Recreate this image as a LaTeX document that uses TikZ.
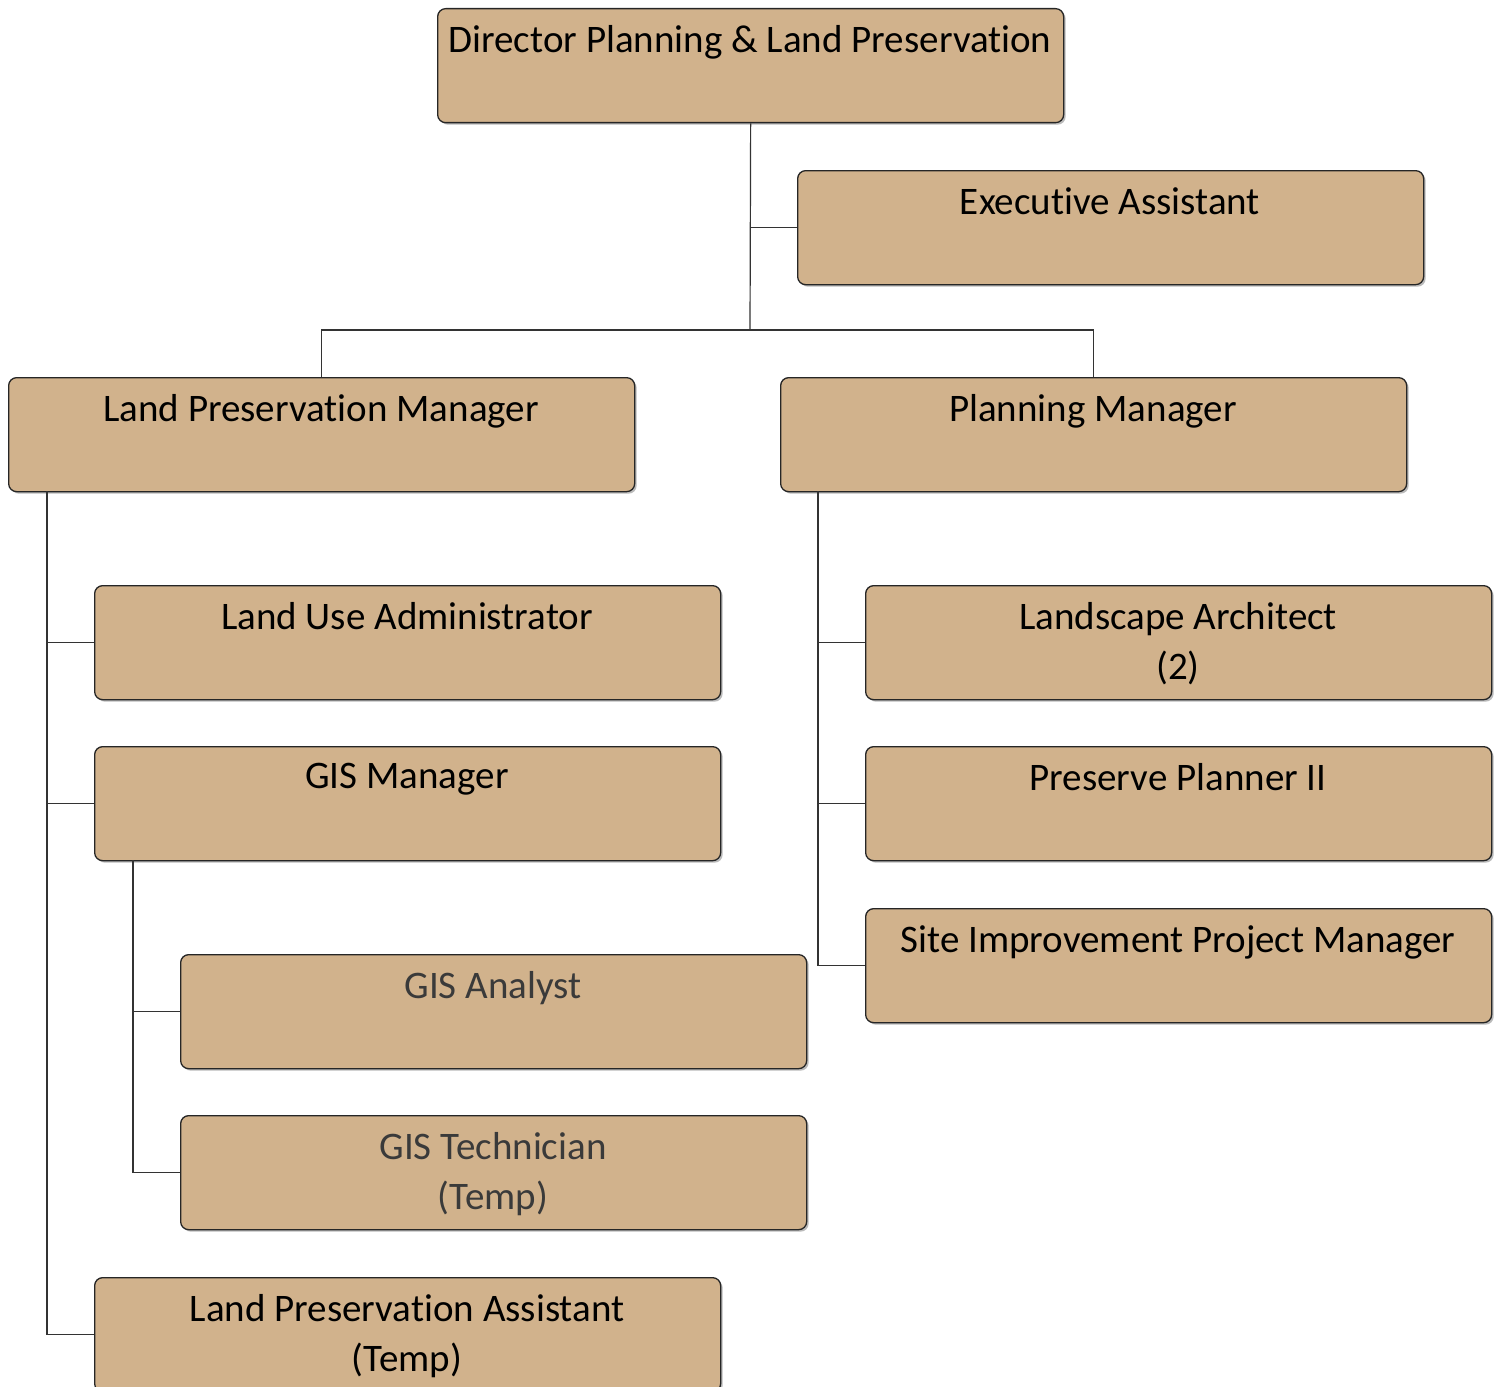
\documentclass[tikz,border=0pt]{standalone}
\usepackage{fontspec}
\setmainfont{Carlito}[RawFeature={-liga;-clig;-dlig;-calt;-rlig}]
\usetikzlibrary{shadows}
\definecolor{boxfill}{HTML}{D1B28C}
\definecolor{edgecol}{HTML}{333333}
\definecolor{graytext}{HTML}{3A3A3A}
\tikzset{
 box/.style={draw=black!85, line width=1.3pt, fill=boxfill, rounded corners=8pt,
   minimum width=626pt, minimum height=114pt, anchor=north west, inner sep=0pt,
   drop shadow={shadow xshift=2pt, shadow yshift=-2pt, fill=black!45, opacity=0.6}},
 lbl/.style={anchor=north, inner sep=0pt, align=center, font=\fontsize{39}{50}\selectfont},
 conn/.style={draw=edgecol, line width=1.2pt},
}
\begin{document}
\begin{tikzpicture}[x=1pt,y=-1pt]
\useasboundingbox (0,0) rectangle (1501,1386);
% boxes
\node[box] (dir)  at (437,8) {};
\node[box] (exe)  at (797,170) {};
\node[box] (lpm)  at (8,377) {};
\node[box] (pm)   at (780,377) {};
\node[box] (lua)  at (94,585) {};
\node[box] (gism) at (94,746) {};
\node[box] (gisa) at (180,954) {};
\node[box] (gist) at (180,1115) {};
\node[box] (lpa)  at (94,1277) {};
\node[box] (la)   at (865,585) {};
\node[box] (pp)   at (865,746) {};
\node[box] (sip)  at (865,908) {};
% texts
\node[lbl] (dirT)  at (750,25) {Director Planning \& Land Preservation};
\node[lbl] (exeT)  at (1110,187) {Executive Assistant};
\node[lbl] (lpmT)  at (321,394) {Land Preservation Manager};
\node[lbl] (pmT)   at (1093,394) {Planning Manager};
\node[lbl] (luaT)  at (407,602) {Land Use Administrator};
\node[lbl] (gismT) at (407,763) {GIS Manager};
\node[lbl,text=graytext] (gisaT) at (493,971) {GIS Analyst};
\node[lbl,text=graytext] (gistT) at (493,1132) {GIS Technician\\(Temp)};
\node[lbl] (lpaT)  at (407,1294) {Land Preservation Assistant\\(Temp)};
\node[lbl] (laT)   at (1178,602) {Landscape Architect\\(2)};
\node[lbl] (ppT)   at (1178,763) {Preserve Planner II};
\node[lbl] (sipT)  at (1178,925) {Site Improvement Project Manager};
% connectors
\coordinate (jtop) at (750,330);
\draw[conn] (dir.south) -- (jtop);
\draw[conn] (dir.south |- exe.west) -- (exe.west);
\draw[conn] (lpm.north) |- (jtop) -| (pm.north);
\coordinate (lv) at (47,491);
\draw[conn] (lv) |- (lpa.west);
\draw[conn] (lv |- lua.west) -- (lua.west);
\draw[conn] (lv |- gism.west) -- (gism.west);
\coordinate (gv) at (133,860);
\draw[conn] (gv) |- (gist.west);
\draw[conn] (gv |- gisa.west) -- (gisa.west);
\coordinate (pv) at (818,491);
\draw[conn] (pv) |- (sip.west);
\draw[conn] (pv |- la.west) -- (la.west);
\draw[conn] (pv |- pp.west) -- (pp.west);
\end{tikzpicture}
\end{document}
